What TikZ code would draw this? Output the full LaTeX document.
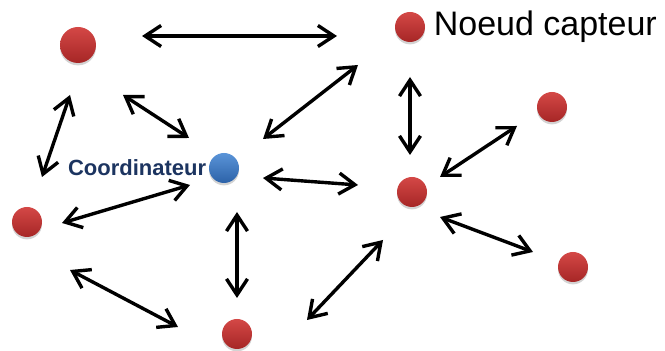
\documentclass[tikz,border=0pt]{standalone}
\usepackage{fontspec}
\setmainfont{Liberation Sans}
\usetikzlibrary{arrows.meta,calc,positioning,shadows}

\definecolor{capred}{RGB}{212,72,70}
\definecolor{capreddark}{RGB}{166,38,38}
\definecolor{coblue}{RGB}{90,148,216}
\definecolor{cobluedark}{RGB}{44,98,168}
\definecolor{txtblue}{RGB}{28,52,96}

\tikzset{
	capteur/.style={circle, minimum size=15pt, inner sep=0pt, top color=capred, bottom color=capreddark,
		drop shadow={shadow xshift=0pt, shadow yshift=-1.2pt, opacity=0.35}},
	coord/.style={capteur, top color=coblue, bottom color=cobluedark},
	link/.style={line width=1.7pt, {Straight Barb[length=8pt,width=10.5pt]}-{Straight Barb[length=8pt,width=10.5pt]}}
}

\begin{document}
\begin{tikzpicture}[x=0.5pt, y=-0.5pt]
	\useasboundingbox (0,0) rectangle (665,351);
	% noeuds
	\node[capteur, minimum size=18pt] (tl) at (78,45) {};
	\node[capteur] (top) at (410,27) {};
	\node[capteur] (rt) at (552,107) {};
	\node[capteur] (mr) at (412,192) {};
	\node[capteur] (rb) at (573,267) {};
	\node[capteur] (bot) at (237,334) {};
	\node[capteur] (lf) at (27,222) {};
	\node[coord] (co) at (224,168) {};
	% textes
	\node[right=4pt of top, inner sep=0pt, font=\fontsize{17}{20}\selectfont] (captlabel) {Noeud capteur};
	\node[left=1pt of co, inner sep=0pt, text=txtblue, font=\fontsize{11}{13}\selectfont\bfseries] (colabel) {Coordinateur};
	% liaisons
	\draw[link] ($(tl)+(64,-9)$) -- ($(top)+(-73,9)$);
	\draw[link] ($(tl)+(45,50)$) -- ($(co)+(-35,-30)$);
	\draw[link] ($(tl)+(-8,50)$) -- ($(lf)+(15,-45)$);
	\draw[link] ($(co)+(39,-29)$) -- ($(top)+(-52,38)$);
	\draw[link] ($(top)+(0,50)$) -- ($(mr)+(-2,-37)$);
	\draw[link] ($(mr)+(28,-15)$) -- ($(rt)+(-35,19)$);
	\draw[link] ($(co)+(39,10)$) -- ($(mr)+(-54,-7)$);
	\draw[link] ($(mr)+(28,25)$) -- ($(rb)+(-40,-15)$);
	\draw[link] ($(bot)+(70,-14)$) -- ($(mr)+(-29,48)$);
	\draw[link] ($(lf)+(35,1)$) -- ($(co)+(-34,17)$);
	\draw[link] ($(co)+(13,44)$) -- ($(bot)+(0,-36)$);
	\draw[link] ($(lf)+(43,48)$) -- ($(bot)+(-59,-7)$);
\end{tikzpicture}
\end{document}
